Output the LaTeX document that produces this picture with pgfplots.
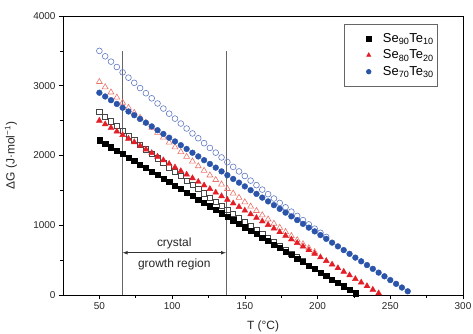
\documentclass[border=0pt]{standalone}
\usepackage{fontspec}
\setmainfont{Liberation Sans}
\usepackage{pgfplots}
\pgfplotsset{compat=1.18}
\definecolor{cred}{RGB}{228,30,38}
\definecolor{cblue}{RGB}{42,84,170}
\definecolor{ored}{RGB}{235,115,105}
\definecolor{oblue}{RGB}{95,120,195}
\definecolor{ogray}{RGB}{70,70,70}
\begin{document}
\begin{tikzpicture}
\path[use as bounding box] (-63bp,-39bp) rectangle (410bp,295bp);
\begin{axis}[
  scale only axis, width=400bp, height=279bp,
  xmin=25, xmax=300, ymin=0, ymax=4000,
  xtick={50,100,...,300}, ytick={0,1000,...,4000},
  minor x tick num=1, minor y tick num=1,
  tick pos=left, tick align=outside,
  major tick length=4bp, minor tick length=2.5bp,
  tick style={black, line width=0.6pt},
  axis line style={line width=0.8pt},
  /pgf/number format/assume math mode=true,
  /pgf/number format/1000 sep={},
  tick label style={font=\fontsize{10}{12}\selectfont, text=black!85},
  label style={font=\fontsize{12}{14}\selectfont, text=black!85},
  xlabel={T (°C)}, ylabel={ΔG (J·mol\textsuperscript{−1})},
  xlabel style={at={(axis description cs:0.5,-0.112)}, anchor=center},
  ylabel style={at={(axis description cs:-0.13,0.5)}, anchor=center},
  legend style={at={(0.9375,0.971)}, anchor=north east, draw=black!60, font=\fontsize{13}{15}\selectfont, inner xsep=2pt, inner ysep=7pt, row sep=2pt, line width=0.7pt},
  legend cell align=left,
  legend image code/.code={\path (0,0) (1.2cm,0); \draw[#1, only marks, mark size=2.3pt] plot coordinates {(0.78cm,0cm)};},
]
% vertical lines
\addplot[black!60, line width=0.8pt, forget plot] coordinates {(66,0) (66,3500)};
\addplot[black!60, line width=0.8pt, forget plot] coordinates {(137,0) (137,3500)};
% open series
\addplot[only marks, mark=square, mark size=2.6pt, ogray, mark options={line width=0.6pt}, forget plot] coordinates {
(50,2627)(54,2558)(58,2490)(62,2422)(66,2354)(70,2288)(74,2221)(78,2155)(82,2089)(86,2024)
(90,1959)(94,1895)(98,1831)(102,1768)(106,1705)(110,1642)(114,1580)(118,1519)(122,1457)(126,1396)
(130,1336)(134,1276)(138,1218)(142,1159)(146,1100)(150,1042)(154,984)(158,927)(162,870)(166,814)
(170,759)(174,704)(178,649)(182,594)(186,540)(190,487)};
\addplot[only marks, mark=triangle, mark size=3.4pt, ored, mark options={line width=0.6pt}, forget plot] coordinates {
(50,3056)(54,2980)(58,2906)(62,2832)(66,2759)(70,2685)(74,2613)(78,2541)(82,2470)(86,2399)
(90,2328)(94,2258)(98,2188)(102,2120)(106,2051)(110,1983)(114,1916)(118,1848)(122,1782)(126,1716)
(130,1651)(134,1586)(138,1522)(142,1457)(146,1395)(150,1331)(154,1269)(158,1207)(162,1145)(166,1085)
(170,1024)(174,965)(178,905)(182,846)(186,788)(190,730)(194,673)(198,616)};
\addplot[only marks, mark=o, mark size=2.9pt, oblue, mark options={line width=0.6pt}, forget plot] coordinates {
(50,3500)(54,3422)(58,3346)(62,3269)(66,3192)(70,3116)(74,3042)(78,2967)(82,2893)(86,2820)
(90,2746)(94,2673)(98,2600)(102,2529)(106,2458)(110,2387)(114,2316)(118,2247)(122,2177)(126,2108)
(130,2041)(134,1972)(138,1905)(142,1837)(146,1772)(150,1706)(154,1640)(158,1575)(162,1511)(166,1446)
(170,1383)(174,1320)(178,1257)(182,1195)(186,1134)(190,1073)(194,1012)(198,951)(202,892)(206,833)};
% filled series
\addplot[only marks, mark=square*, mark size=2.6pt, black] coordinates {
(50,2220)(54,2170)(58,2120)(62,2070)(66,2020)(70,1971)(74,1921)(78,1871)(82,1821)(86,1771)
(90,1721)(94,1671)(98,1621)(102,1572)(106,1522)(110,1472)(114,1422)(118,1372)(122,1322)(126,1272)
(130,1222)(134,1172)(138,1123)(142,1073)(146,1023)(150,973)(154,923)(158,873)(162,823)(166,773)
(170,724)(174,674)(178,624)(182,574)(186,524)(190,474)(194,424)(198,374)(202,325)(206,275)
(210,225)(214,175)(218,125)(222,75)(226,25)};
\addlegendentry{Se\textsubscript{90}Te\textsubscript{10}}
\addplot[only marks, mark=triangle*, mark size=3.4pt, cred] coordinates {
(50,2500)(54,2448)(58,2397)(62,2345)(66,2294)(70,2242)(74,2191)(78,2139)(82,2088)(86,2036)
(90,1984)(94,1933)(98,1881)(102,1830)(106,1778)(110,1727)(114,1675)(118,1623)(122,1572)(126,1520)
(130,1469)(134,1417)(138,1366)(142,1314)(146,1263)(150,1211)(154,1159)(158,1108)(162,1056)(166,1005)
(170,953)(174,902)(178,850)(182,798)(186,747)(190,695)(194,644)(198,592)(202,541)(206,489)
(210,438)(214,386)(218,334)(222,283)(226,231)(230,180)(234,128)(238,77)(242,25)};
\addlegendentry{Se\textsubscript{80}Te\textsubscript{20}}
\addplot[only marks, mark=*, mark size=2.9pt, cblue, mark options={draw=cblue}] coordinates {
(50,2900)(54,2846)(58,2793)(62,2739)(66,2685)(70,2631)(74,2578)(78,2524)(82,2470)(86,2417)
(90,2363)(94,2309)(98,2255)(102,2202)(106,2148)(110,2094)(114,2040)(118,1987)(122,1933)(126,1879)
(130,1826)(134,1772)(138,1718)(142,1664)(146,1611)(150,1557)(154,1503)(158,1450)(162,1396)(166,1342)
(170,1288)(174,1235)(178,1181)(182,1127)(186,1074)(190,1020)(194,966)(198,912)(202,859)(206,805)
(210,751)(214,697)(218,644)(222,590)(226,536)(230,483)(234,429)(238,375)(242,321)(246,268)
(250,214)(254,160)(258,107)(262,53)};
\addlegendentry{Se\textsubscript{70}Te\textsubscript{30}}
% annotation
\draw[black!80, line width=0.7pt, <->, >=latex] (axis cs:66,606) -- (axis cs:137,606);
\node[font=\fontsize{12}{14}\selectfont, text=black!85] at (axis cs:101.5,745) {crystal};
\node[font=\fontsize{12}{14}\selectfont, text=black!85] at (axis cs:101.5,444) {growth region};
\end{axis}
\end{tikzpicture}
\end{document}
